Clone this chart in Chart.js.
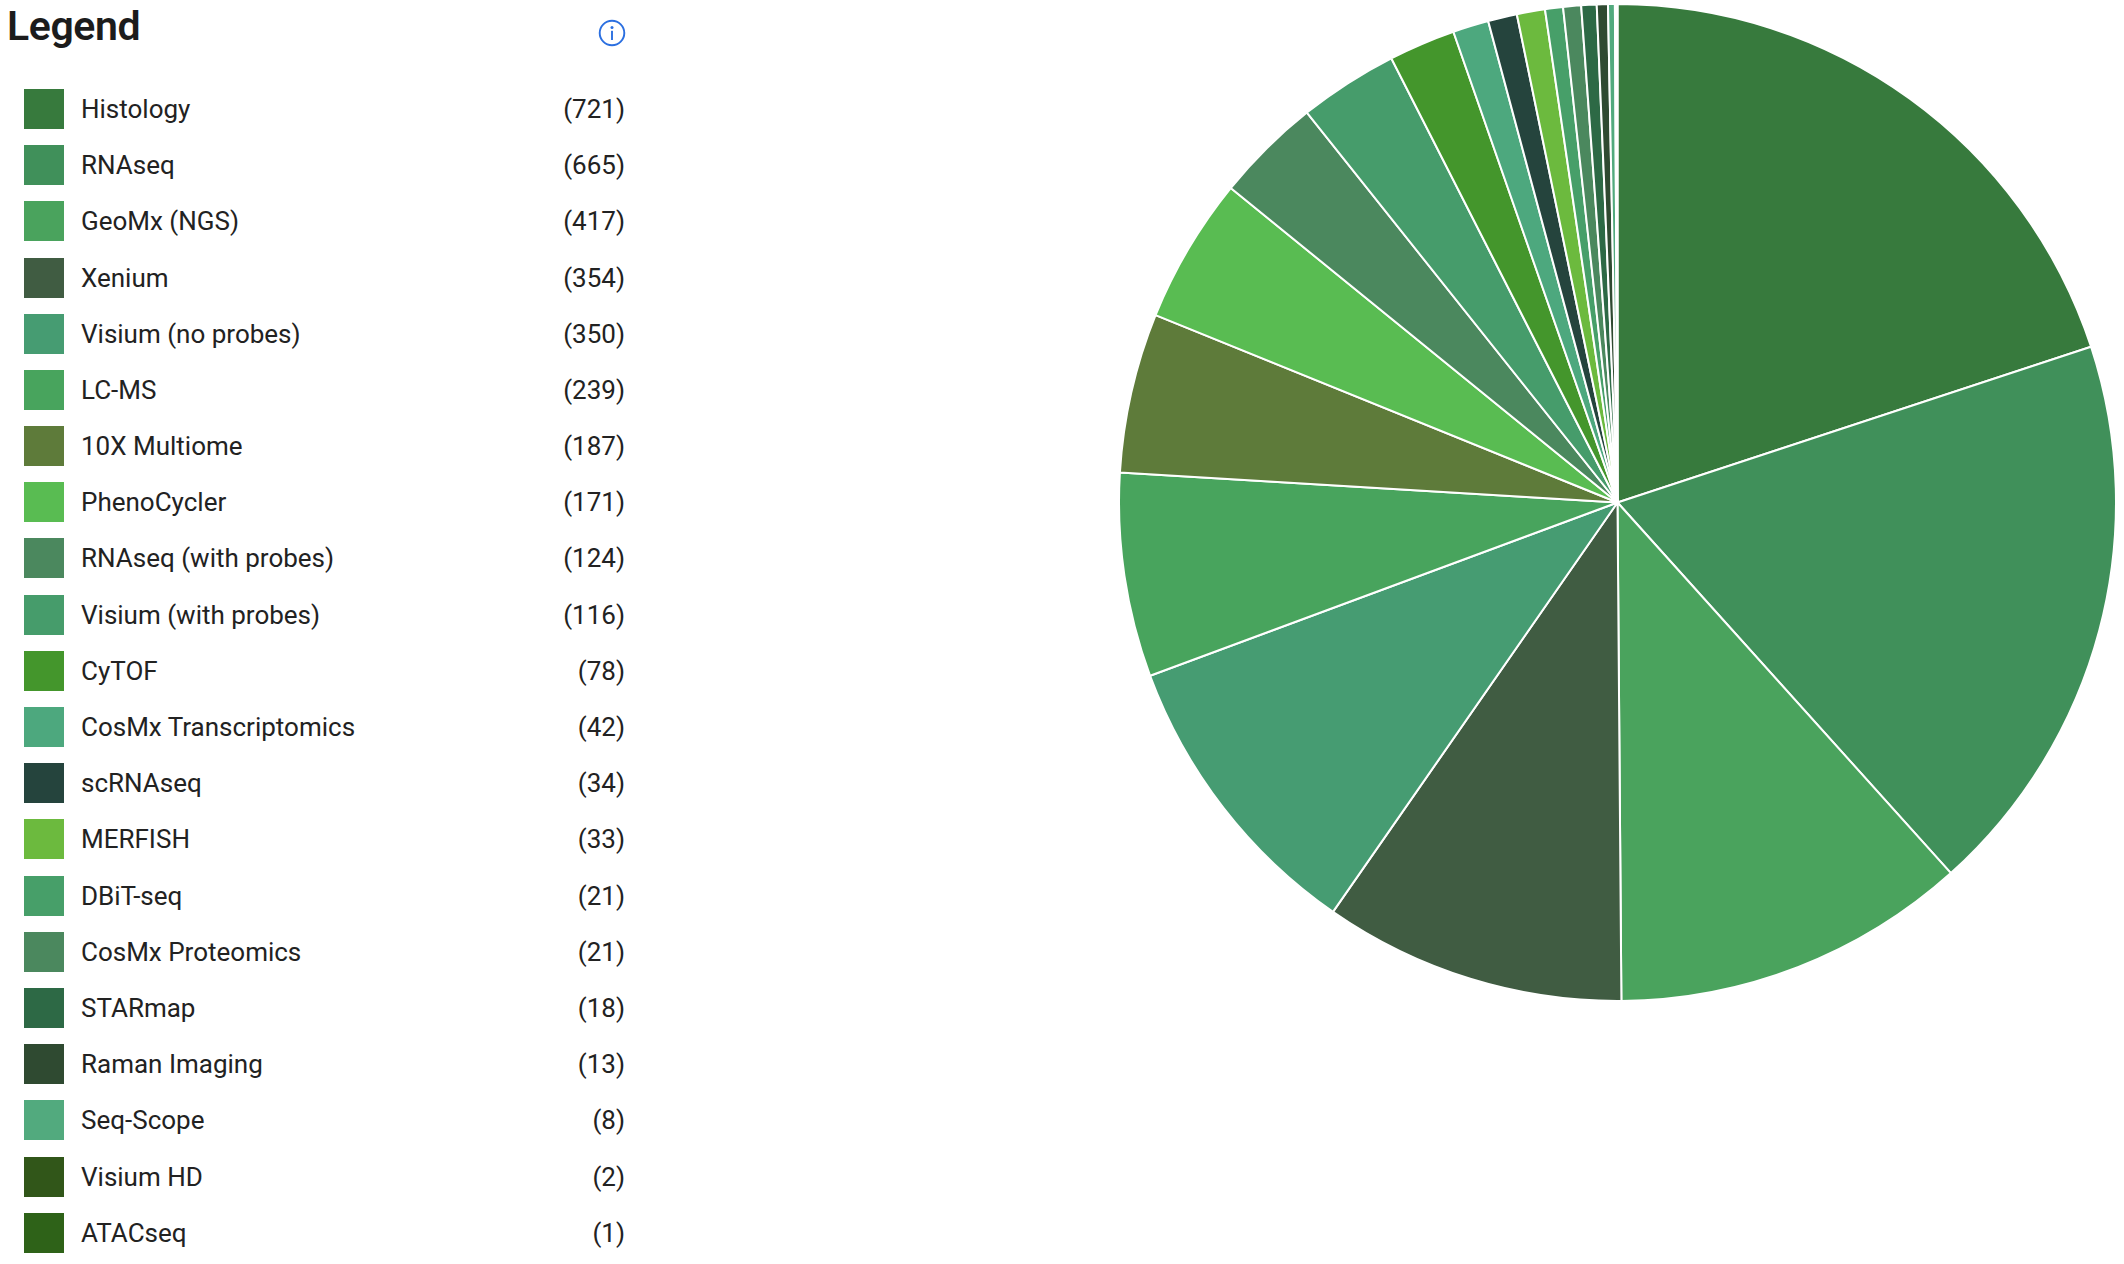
<!DOCTYPE html>
<html>
<head>
<meta charset="utf-8">
<script src="https://cdn.jsdelivr.net/npm/chart.js@4.4.0/dist/chart.umd.min.js"></script>
<style>
  html, body { margin: 0; padding: 0; background: #ffffff; }
  body { width: 2124px; height: 1264px; position: relative; overflow: hidden; font-family: Roboto, "Noto Sans", sans-serif; }
  #title { position: absolute; left: 7px; top: 0px; font-size: 41px; font-weight: 600; color: #1c1c1c; line-height: 52px; letter-spacing: -0.4px; }
  #info { position: absolute; left: 598px; top: 19px; width: 28px; height: 28px; }
  #legend { position: absolute; left: 24px; top: 80.9px; width: 601px; }
  .row { height: 56.2px; display: flex; align-items: center; position: relative; }
  .sw { width: 40px; height: 40px; flex: 0 0 40px; }
  .lab { margin-left: 17px; font-size: 26px; color: #222; }
  .cnt { position: absolute; right: 0; font-size: 26px; color: #222; }
  #pie { position: absolute; left: 1118px; top: 3px; width: 999px; height: 999px; }
</style>
</head>
<body>
<div id="title">Legend</div>
<svg id="info" viewBox="0 0 28 28">
  <circle cx="14" cy="14" r="12.3" fill="none" stroke="#2b6fe0" stroke-width="1.9"/>
  <circle cx="14" cy="8.6" r="1.5" fill="#2b6fe0"/>
  <rect x="13.05" y="11.8" width="1.9" height="9.2" fill="#2b6fe0"/>
</svg>
<div id="legend"></div>
<div id="pie"><canvas id="c"></canvas></div>
<script>
const categories = [
  "Histology", "RNAseq", "GeoMx (NGS)", "Xenium", "Visium (no probes)", "LC-MS",
  "10X Multiome", "PhenoCycler", "RNAseq (with probes)", "Visium (with probes)", "CyTOF",
  "CosMx Transcriptomics", "scRNAseq", "MERFISH", "DBiT-seq", "CosMx Proteomics",
  "STARmap", "Raman Imaging", "Seq-Scope", "Visium HD", "ATACseq"
];
const counts = [721, 665, 417, 354, 350, 239, 187, 171, 124, 116, 78, 42, 34, 33, 21, 21, 18, 13, 8, 2, 1];
const colors = [
  "#377a3d", "#40905a", "#4aa35d", "#405c42", "#469c72", "#48a45d",
  "#5e7b3a", "#59bc52", "#4b885e", "#469c6b", "#44962c",
  "#4da87e", "#25443d", "#6cba3e", "#479f69", "#4b885e",
  "#2d6945", "#2f4a31", "#52aa7e", "#315619", "#2e6218"
];

const legend = document.getElementById('legend');
categories.forEach((name, i) => {
  const row = document.createElement('div');
  row.className = 'row';
  const sw = document.createElement('div');
  sw.className = 'sw';
  sw.style.background = colors[i];
  const lab = document.createElement('span');
  lab.className = 'lab';
  lab.textContent = name;
  const cnt = document.createElement('span');
  cnt.className = 'cnt';
  cnt.textContent = '(' + counts[i] + ')';
  row.appendChild(sw); row.appendChild(lab); row.appendChild(cnt);
  legend.appendChild(row);
});

new Chart(document.getElementById('c'), {
  type: 'pie',
  data: {
    labels: categories,
    datasets: [{
      data: counts,
      backgroundColor: colors,
      borderColor: '#ffffff',
      borderWidth: 2,
      hoverOffset: 0
    }]
  },
  options: {
    responsive: true,
    maintainAspectRatio: false,
    animation: false,
    layout: { padding: 0 },
    plugins: { legend: { display: false }, tooltip: { enabled: false } }
  }
});
</script>
</body>
</html>
